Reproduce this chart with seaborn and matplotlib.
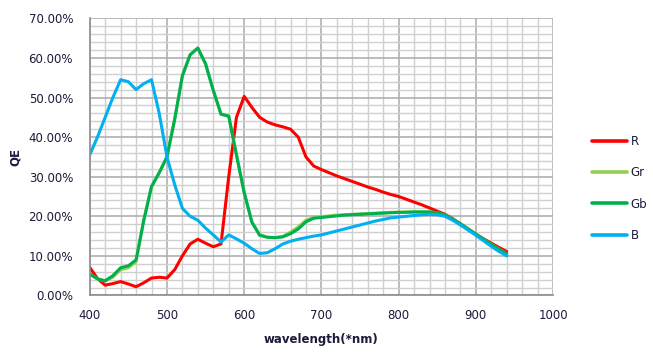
import numpy as np
import pandas as pd
import matplotlib
matplotlib.use("Agg")
import matplotlib.pyplot as plt
from matplotlib.ticker import MultipleLocator, FuncFormatter
import seaborn as sns

wavelength = list(range(400, 950, 10))

R = [7.1, 4.3, 2.6, 3.0, 3.5, 2.9, 2.2, 3.2, 4.4, 4.6,
     4.4, 6.5, 10.0, 13.0, 14.2, 13.2, 12.3, 13.0, 30.0, 45.0,
     50.3, 47.5, 45.0, 43.8, 43.1, 42.6, 42.0, 40.0, 35.0, 32.7,
     31.8, 31.0, 30.2, 29.5, 28.8, 28.1, 27.4, 26.8, 26.1, 25.5,
     25.0, 24.3, 23.6, 22.9, 22.1, 21.3, 20.5, 19.4, 18.1, 16.8,
     15.5, 14.3, 13.2, 12.1, 11.1]

Gr = [5.4, 4.2, 3.7, 4.6, 6.5, 7.0, 8.5, 19.0, 27.5, 31.0,
      35.0, 44.5, 55.5, 60.8, 62.5, 58.5, 51.8, 45.8, 45.3, 35.5,
      26.0, 18.5, 15.4, 14.7, 14.6, 14.9, 16.0, 17.3, 19.0, 19.7,
      19.9, 20.1, 20.3, 20.4, 20.5, 20.6, 20.7, 20.8, 20.9, 21.0,
      21.0, 21.1, 21.1, 21.1, 21.1, 20.9, 20.3, 19.3, 18.1, 16.8,
      15.5, 14.2, 12.9, 11.7, 10.5]

Gb = [5.4, 4.2, 3.7, 5.0, 7.0, 7.5, 9.0, 19.0, 27.5, 31.0,
      35.0, 44.5, 55.5, 60.8, 62.5, 58.5, 51.8, 45.8, 45.3, 35.5,
      26.0, 18.5, 15.2, 14.7, 14.6, 14.8, 15.6, 16.8, 18.6, 19.5,
      19.7, 19.9, 20.1, 20.3, 20.4, 20.5, 20.6, 20.7, 20.8, 20.9,
      21.0, 21.0, 21.1, 21.1, 21.1, 20.9, 20.3, 19.3, 18.1, 16.8,
      15.5, 14.2, 12.9, 11.7, 10.5]

B = [35.5, 40.0, 45.0, 50.0, 54.5, 54.0, 52.0, 53.5, 54.5, 46.0,
     35.0, 28.0, 22.0, 20.0, 19.0, 17.0, 15.3, 13.5, 15.3, 14.3,
     13.2, 11.8, 10.6, 10.8, 11.8, 13.0, 13.7, 14.2, 14.6, 15.0,
     15.3, 15.8, 16.3, 16.8, 17.3, 17.8, 18.3, 18.8, 19.2, 19.6,
     19.8, 20.0, 20.2, 20.4, 20.5, 20.4, 20.0, 19.0, 17.8, 16.5,
     15.2, 13.8, 12.4, 11.1, 10.0]

channels = ["R", "Gr", "Gb", "B"]
colors = ["#ff0000", "#92d050", "#00b050", "#00b0f0"]

df = pd.concat([
    pd.DataFrame({"wavelength": wavelength, "QE": vals, "channel": name})
    for name, vals in zip(channels, [R, Gr, Gb, B])
], ignore_index=True)

sns.set_style("white")
plt.rcParams["font.family"] = ["DejaVu Sans"]

fig = plt.figure(figsize=(6.53, 3.53), dpi=100)
ax = fig.add_axes([0.1374, 0.163, 0.7096, 0.785])

sns.lineplot(data=df, x="wavelength", y="QE", hue="channel",
             hue_order=channels, palette=colors, linewidth=2.2,
             ax=ax, legend=False, sort=False)

ax.set_xlim(400, 1000)
ax.set_ylim(0, 70)
ax.xaxis.set_major_locator(MultipleLocator(100))
ax.xaxis.set_minor_locator(MultipleLocator(20))
ax.yaxis.set_major_locator(MultipleLocator(10))
ax.yaxis.set_minor_locator(MultipleLocator(2))
ax.yaxis.set_major_formatter(FuncFormatter(lambda v, p: f"{v:.2f}%"))

ax.grid(which="major", color="#b0b0b0", linewidth=1.2)
ax.grid(which="minor", color="#d0d0d0", linewidth=1.0)
ax.set_axisbelow(True)

for s in ["top", "right"]:
    ax.spines[s].set_visible(False)
for s in ["left", "bottom"]:
    ax.spines[s].set_color("#8c8c8c")
    ax.spines[s].set_linewidth(1.2)

ax.tick_params(axis="both", which="major", direction="out", length=4,
               color="#8c8c8c", labelsize=8.5, labelcolor="#1a1a3a")
ax.tick_params(axis="y", which="major", pad=8)
ax.tick_params(axis="x", which="major", pad=6)
ax.tick_params(axis="both", which="minor", length=0)

ax.set_xlabel("wavelength(*nm)", fontsize=8.5, fontweight="bold",
              color="#1a1a3a", labelpad=8)
ax.set_ylabel("QE", fontsize=8.5, fontweight="bold", color="#1a1a3a",
              labelpad=5)

handles = [plt.Line2D([], [], color=c, linewidth=2.6) for c in colors]
fig.legend(handles, channels, loc="upper left",
           bbox_to_anchor=(0.9066, 0.6176), frameon=False,
           fontsize=8.5, handlelength=3.0, handletextpad=0.25,
           labelspacing=1.55, borderpad=0, borderaxespad=0,
           labelcolor="#1a1a3a")

fig.savefig("out.png", dpi=100)
